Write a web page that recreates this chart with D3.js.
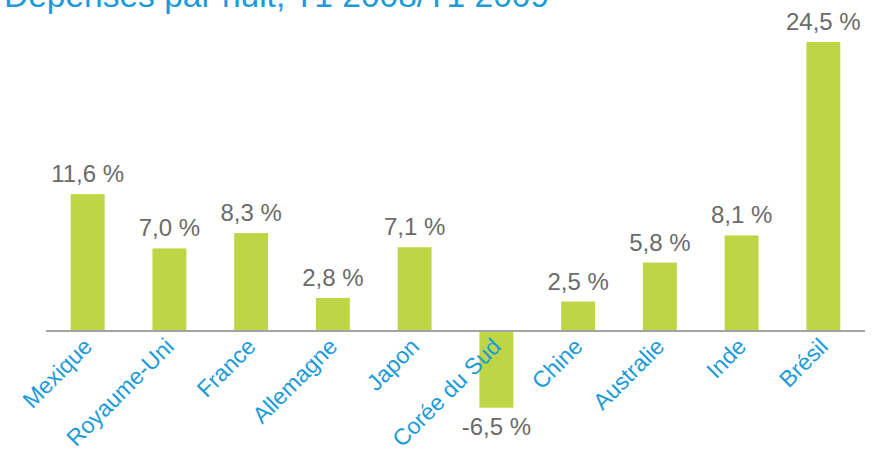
<!DOCTYPE html>
<html>
<head>
<meta charset="utf-8">
<script src="https://cdn.jsdelivr.net/npm/d3@7"></script>
<style>
  body { margin: 0; background: #fff; }
  svg { display: block; font-family: "Helvetica Neue", "Liberation Sans", Arial, sans-serif; }
</style>
</head>
<body>
<svg id="chart"></svg>
<script>
//chart data
let title = "Dépenses par nuit, T1 2008/T1 2009";
let countries = ["Mexique","Royaume-Uni","France","Allemagne","Japon","Corée du Sud","Chine","Australie","Inde","Brésil"];
let values = [11.6, 7.0, 8.3, 2.8, 7.1, -6.5, 2.5, 5.8, 8.1, 24.5];

let width = 872, height = 451;
let x0 = 47, x1 = 864, zeroY = 331, topY = 42;

let svg = d3.select('#chart')
  .attr('width', width)
  .attr('height', height);

//french number format
let fr = d3.formatLocale({decimal: ",", thousands: " ", grouping: [3], currency: ["", " €"], minus: "-"});
let fmt = function(v) { return fr.format(".1f")(v) + " %"; };

let xScale = d3.scaleBand()
  .domain(countries)
  .range([x0, x1])
  .paddingInner(0.585)
  .paddingOuter(0.29);

let yScale = d3.scaleLinear()
  .domain([0, d3.max(values)])
  .range([zeroY, topY]);

let data = countries.map(function(c, i) { return {name: c, val: values[i]}; });

//title (cut off at top like the source)
svg.append('text')
  .attr('x', 4)
  .attr('y', 7)
  .attr('fill', '#1b9bd8')
  .attr('font-size', 33.5)
  .text(title);

//bars
svg.selectAll('.bar')
  .data(data)
  .enter().append('rect')
  .attr('class', 'bar')
  .attr('x', function(d) { return xScale(d.name); })
  .attr('width', xScale.bandwidth())
  .attr('y', function(d) { return yScale(Math.max(0, d.val)); })
  .attr('height', function(d) { return Math.abs(yScale(d.val) - yScale(0)); })
  .attr('fill', '#bed545');

//axis line
svg.append('line')
  .attr('x1', x0 - 1)
  .attr('x2', x1 + 1)
  .attr('y1', yScale(0))
  .attr('y2', yScale(0))
  .attr('stroke', '#a3a3a3')
  .attr('stroke-width', 2);

//category labels
svg.selectAll('.cat')
  .data(data)
  .enter().append('text')
  .attr('class', 'cat')
  .attr('text-anchor', 'end')
  .attr('fill', '#1b9bd8')
  .attr('font-size', 23)
  .attr('transform', function(d) {
    let cx = xScale(d.name) + xScale.bandwidth() / 2;
    return 'translate(' + (cx + 6) + ',' + (yScale(0) + 17) + ') rotate(-45)';
  })
  .text(function(d) { return d.name; });

//value labels
svg.selectAll('.val')
  .data(data)
  .enter().append('text')
  .attr('class', 'val')
  .attr('text-anchor', 'middle')
  .attr('fill', '#6a6a6a')
  .attr('font-size', 24)
  .attr('x', function(d) { return xScale(d.name) + xScale.bandwidth() / 2; })
  .attr('y', function(d) { return d.val >= 0 ? yScale(d.val) - 12 : yScale(d.val) + 27; })
  .text(function(d) { return fmt(d.val); });
</script>
</body>
</html>
